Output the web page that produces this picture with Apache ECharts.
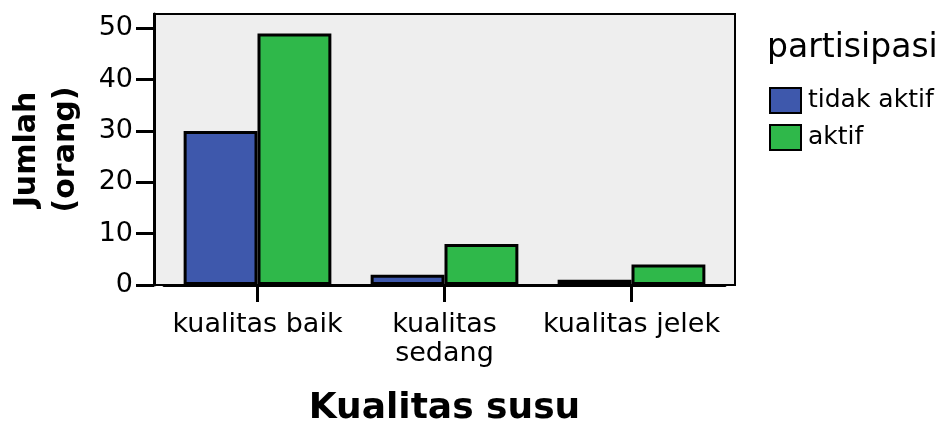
<!DOCTYPE html>
<html>
<head>
<meta charset="utf-8">
<script src="https://cdn.jsdelivr.net/npm/echarts@6/dist/echarts.min.js"></script>
<style>
html,body{margin:0;padding:0;background:#fff;}
#c{width:943px;height:423px;}
</style>
</head>
<body>
<div id="c"></div>
<script>
const categories = ['kualitas baik', 'kualitas\nsedang', 'kualitas jelek'];
const seriesNames = ['tidak aktif', 'aktif'];
const tidakAktif = [30, 2, 1];
const aktif = [49, 8, 4];
const yTicks = [0, 10, 20, 30, 40, 50];
const yMax = 52.8;

const FONT = 'DejaVu Sans';
const chart = echarts.init(document.getElementById('c'), null, {renderer: 'canvas'});
chart.setOption({
  animation: false,
  backgroundColor: '#ffffff',
  textStyle: {fontFamily: FONT, color: '#000'},
  title: {
    text: 'partisipasi',
    left: 767, top: 32, padding: 0,
    textStyle: {fontFamily: FONT, fontWeight: 'normal', fontSize: 33, color: '#000'}
  },
  legend: {
    data: seriesNames,
    orient: 'vertical',
    left: 769, top: 87, padding: 0,
    itemWidth: 31, itemHeight: 25, itemGap: 10,
    icon: 'rect',
    textStyle: {fontFamily: FONT, fontSize: 25, color: '#000', padding: [0, 0, 0, 2]}
  },
  grid: [
    {left: 154, top: 14, width: 581, height: 271, show: true, backgroundColor: '#eeeeee', borderColor: '#000', borderWidth: 2, containLabel: false, outerBoundsMode: 'none'},
    {left: 164, top: 14, width: 561, height: 271, containLabel: false, outerBoundsMode: 'none'}
  ],
  xAxis: [
    {gridIndex: 0, type: 'value', show: false, min: 0, max: 1},
    {
      gridIndex: 1, type: 'category', data: categories,
      axisLine: {show: true, lineStyle: {color: '#000', width: 3}},
      axisTick: {show: true, alignWithLabel: true, length: 17, lineStyle: {color: '#000', width: 3}},
      axisLabel: {fontFamily: FONT, fontSize: 27, color: '#000', margin: 25, lineHeight: 29, interval: 0},
      name: 'Kualitas susu', nameLocation: 'middle', nameGap: 124, nameMoveOverlap: false,
      nameTextStyle: {fontFamily: FONT, fontWeight: 'bold', fontSize: 36, color: '#000', verticalAlign: 'middle'}
    }
  ],
  yAxis: [
    {gridIndex: 0, type: 'value', show: false, min: 0, max: 1},
    {
      gridIndex: 1, type: 'value', min: 0, max: yMax, offset: 10,
      splitLine: {show: false},
      axisLine: {show: true, lineStyle: {color: '#000', width: 3}},
      axisTick: {show: true, length: 18, customValues: yTicks, lineStyle: {color: '#000', width: 3}},
      axisLabel: {fontFamily: FONT, fontSize: 27, color: '#000', margin: 21, customValues: yTicks},
      name: 'Jumlah\n(orang)', nameLocation: 'middle', nameGap: 107, nameRotate: 90, nameMoveOverlap: false,
      nameTextStyle: {fontFamily: FONT, fontWeight: 'bold', fontSize: 30, lineHeight: 39, color: '#000', align: 'center', verticalAlign: 'middle'}
    }
  ],
  series: [
    {
      name: seriesNames[0], type: 'bar', xAxisIndex: 1, yAxisIndex: 1,
      data: tidakAktif, barGap: '0%', barCategoryGap: '21%',
      itemStyle: {color: '#3e58ac', borderColor: '#000', borderWidth: 3}
    },
    {
      name: seriesNames[1], type: 'bar', xAxisIndex: 1, yAxisIndex: 1,
      data: aktif, barGap: '0%', barCategoryGap: '21%',
      itemStyle: {color: '#2fb84a', borderColor: '#000', borderWidth: 3}
    }
  ]
});
</script>
</body>
</html>
